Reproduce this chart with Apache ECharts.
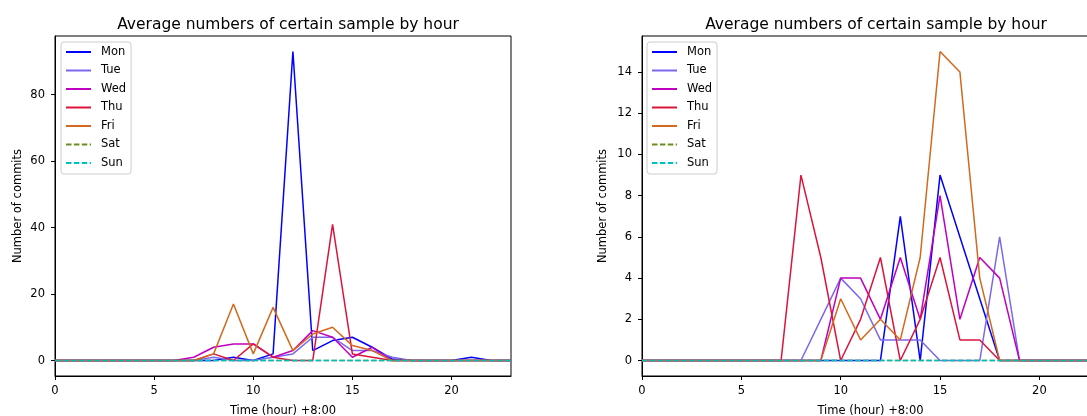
<!DOCTYPE html>
<html>
<head>
<meta charset="utf-8">
<script src="https://cdn.jsdelivr.net/npm/echarts@6/dist/echarts.min.js"></script>
<style>
html,body{margin:0;padding:0;background:#fff;}
#chart{width:1087px;height:416px;}
</style>
</head>
<body>
<div id="chart"></div>
<script>
// ---- data ----
var hours = [0,1,2,3,4,5,6,7,8,9,10,11,12,13,14,15,16,17,18,19,20,21,22,23];
var dayNames = ['Mon','Tue','Wed','Thu','Fri','Sat','Sun'];

// left panel
var monL = [0,0,0,0,0,0,0,0,0,1,0,2,93,3,6,7,4,0.5,0,0,0,1,0,0];
var tueL = [0,0,0,0,0,0,0,0,1,0,0,1,2,7,7,3,3,1,0,0,0,0,0,0];
var wedL = [0,0,0,0,0,0,0,1,4,5,5,1,3,9,7,1,4,0,0,0,0,0,0,0];
var thuL = [0,0,0,0,0,0,0,0,2,0,5,1,0,0,41,2,1,0,0,0,0,0,0,0];
var friL = [0,0,0,0,0,0,0,0,2,17,2,16,3,8,10,4.5,3,0,0,0,0,0,0,0];
var satL = [0,0,0,0,0,0,0,0,0,0,0,0,0,0,0,0,0,0,0,0,0,0,0,0];
var sunL = [0,0,0,0,0,0,0,0,0,0,0,0,0,0,0,0,0,0,0,0,0,0,0,0];

// right panel
var monR = [0,0,0,0,0,0,0,0,0,0,0,0,0,7,0,9,6,3,0,0,0,0,0,0];
var tueR = [0,0,0,0,0,0,0,0,0,2,4,3,1,1,1,0,0,0,6,0,0,0,0,0];
var wedR = [0,0,0,0,0,0,0,0,0,0,4,4,2,5,2,8,2,5,4,0,0,0,0,0];
var thuR = [0,0,0,0,0,0,0,0,9,5,0,2,5,0,2,5,1,1,0,0,0,0,0,0];
var friR = [0,0,0,0,0,0,0,0,0,0,3,1,2,1,5,15,14,4,0,0,0,0,0,0];
var satR = [0,0,0,0,0,0,0,0,0,0,0,0,0,0,0,0,0,0,0,0,0,0,0,0];
var sunR = [0,0,0,0,0,0,0,0,0,0,0,0,0,0,0,0,0,0,0,0,0,0,0,0];

var xTicks = [0,5,10,15,20];
var yTicksL = [0,20,40,60,80];
var yTicksR = [0,2,4,6,8,10,12,14];

var titleText = 'Average numbers of certain sample by hour';
var xName = 'Time (hour) +8:00';
var yName = 'Number of commits';

// ---- styles ----
var colors = ['#0000ff','#7b68ee','#bf00bf','#dc143c','#d2691e','#6b8e23','#00bfbf'];
var dashed = [false,false,false,false,false,true,true];
var FONT = 'DejaVu Sans';
var FS = 11.5;

function pairs(vals){ return hours.map(function(h,i){ return [h, vals[i]]; }); }

var leftSets = [monL,tueL,wedL,thuL,friL,satL,sunL];
var rightSets = [monR,tueR,wedR,thuR,friR,satR,sunR];

var series = [];
function addSeries(sets, idx){
  sets.forEach(function(vals, i){
    series.push({
      type:'line', name: dayNames[i], xAxisIndex: idx, yAxisIndex: idx,
      data: pairs(vals), symbol:'none', showSymbol:false, animation:false,
      color: colors[i],
      lineStyle:{color: colors[i], width:1.5, type: dashed[i] ? [5.5,2.4] : 'solid'},
      emphasis:{disabled:true}
    });
  });
}
addSeries(leftSets, 0);
addSeries(rightSets, 1);

function xAxis(idx){
  return {
    type:'value', gridIndex: idx, min:0, max:23,
    name: xName, nameLocation:'middle', nameGap: 29,
    nameTextStyle:{fontFamily:FONT, fontSize:FS, color:'#000'},
    axisLine:{show:true, onZero:false, lineStyle:{color:'#000', width:1}},
    axisTick:{show:true, inside:false, length:4, lineStyle:{color:'#000'}, customValues: xTicks},
    axisLabel:{fontFamily:FONT, fontSize:FS, color:'#000', margin:9, customValues: xTicks},
    splitLine:{show:false}
  };
}
function yAxis(idx, mn, mx, ticks, gap){
  return {
    type:'value', gridIndex: idx, min: mn, max: mx,
    name: yName, nameLocation:'middle', nameGap: gap, nameRotate: 90,
    nameTextStyle:{fontFamily:FONT, fontSize:FS, color:'#000'},
    axisLine:{show:true, onZero:false, lineStyle:{color:'#000', width:1}},
    axisTick:{show:true, inside:false, length:4, lineStyle:{color:'#000'}, customValues: ticks},
    axisLabel:{fontFamily:FONT, fontSize:FS, color:'#000', margin:10, customValues: ticks},
    splitLine:{show:false}
  };
}
function legend(left){
  return {
    orient:'vertical', left: left, top: 42,
    data: dayNames,
    itemWidth: 25, itemHeight: 12, itemGap: 6.5,
    padding:[4,5,5,4],
    borderColor:'#cccccc', borderWidth:1, borderRadius:3,
    backgroundColor:'rgba(255,255,255,0.8)',
    itemStyle:{opacity:0},
    textStyle:{fontFamily:FONT, fontSize:FS, color:'#000', padding:[0,0,0,5]},
    selectedMode:false
  };
}

var option = {
  animation:false,
  backgroundColor:'#fff',
  title:[
    {text: titleText, left: 283, top: 12, textAlign:'center',
     textStyle:{fontFamily:FONT, fontSize:15.5, fontWeight:'normal', color:'#000'}},
    {text: titleText, left: 871, top: 12, textAlign:'center',
     textStyle:{fontFamily:FONT, fontSize:15.5, fontWeight:'normal', color:'#000'}}
  ],
  grid:[
    {left:55, top:36, width:456, height:340, show:true, borderColor:'#000', borderWidth:1,
     backgroundColor:'transparent', containLabel:false, outerBoundsMode:'none'},
    {left:642, top:36, width:457, height:340, show:true, borderColor:'#000', borderWidth:1,
     backgroundColor:'transparent', containLabel:false, outerBoundsMode:'none'}
  ],
  xAxis:[xAxis(0), xAxis(1)],
  yAxis:[yAxis(0, -4.65, 97.65, yTicksL, 31), yAxis(1, -0.75, 15.75, yTicksR, 33)],
  legend:[legend(61), legend(647)],
  series: series
};

var chart = echarts.init(document.getElementById('chart'), null, {renderer:'canvas'});
chart.setOption(option);
</script>
</body>
</html>
